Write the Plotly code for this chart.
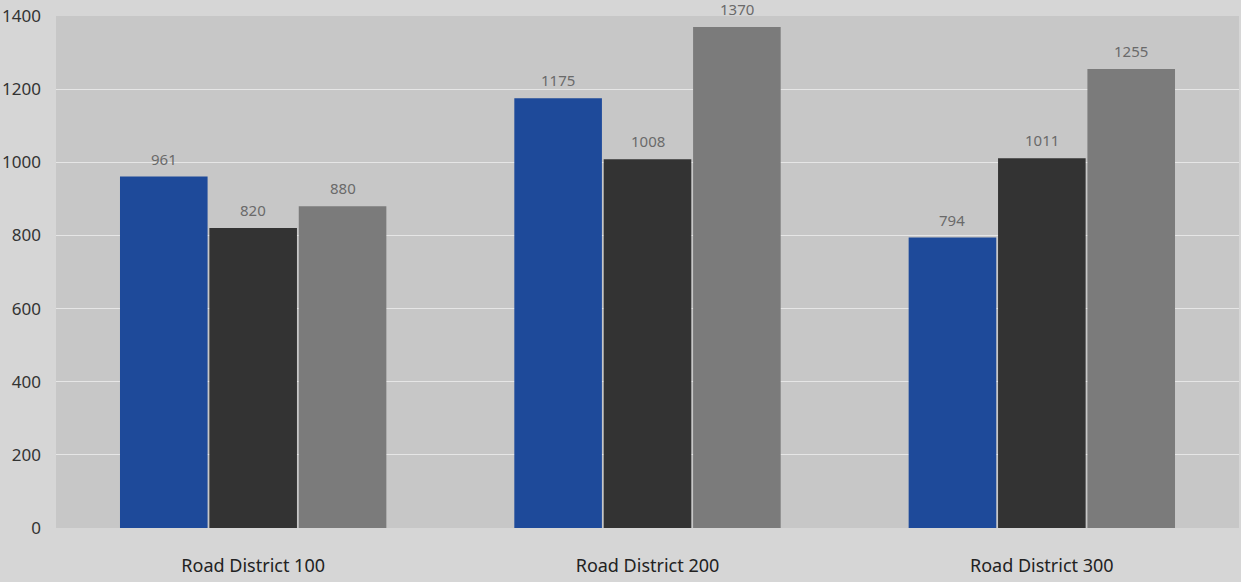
import plotly.graph_objects as go

districts = ["Road District 100", "Road District 200", "Road District 300"]
series_a = [961, 1175, 794]
series_b = [820, 1008, 1011]
series_c = [880, 1370, 1255]
y_ticks = [0, 200, 400, 600, 800, 1000, 1200, 1400]

colors = ["#1e4a9a", "#333333", "#7b7b7b"]
bar_gap = 0.32

fig = go.Figure()
all_series = [series_a, series_b, series_c]
slot = (1 - bar_gap) / len(all_series)
for i, (vals, color) in enumerate(zip(all_series, colors)):
    fig.add_trace(go.Bar(
        x=districts, y=vals,
        marker=dict(color=color, line=dict(width=0)),
    ))
    # value labels sit a little higher above the bars than plotly's "outside" text
    for j, v in enumerate(vals):
        fig.add_annotation(
            x=j + (i - 1) * slot, y=v, xref="x", yref="y",
            text=str(v), showarrow=False, yanchor="bottom", yshift=6,
            font=dict(family="Noto Sans", size=15, color="#6a6a6a"),
        )

fig.update_layout(
    width=1241, height=582,
    margin=dict(l=56, r=2, t=16, b=54),
    paper_bgcolor="#d6d6d6",
    plot_bgcolor="#c7c7c7",
    barmode="group",
    bargap=bar_gap,
    bargroupgap=0.02,
    showlegend=False,
    font=dict(family="Noto Sans", color="#333333"),
)
fig.update_xaxes(
    showgrid=False, showline=False, zeroline=False,
    tickfont=dict(size=18, color="#222222"),
    ticklabelstandoff=25,
    automargin=False,
)
fig.update_yaxes(
    range=[0, 1400], tickvals=y_ticks,
    showgrid=True, gridcolor="#e6e6e6", gridwidth=1,
    zeroline=False, showline=False,
    tickfont=dict(size=17, color="#333333"),
    ticklabelstandoff=14,
    automargin=False,
)

fig.write_html(
    "out.html",
    config={"displayModeBar": False},
    post_script="document.body.style.margin='0';",
)
